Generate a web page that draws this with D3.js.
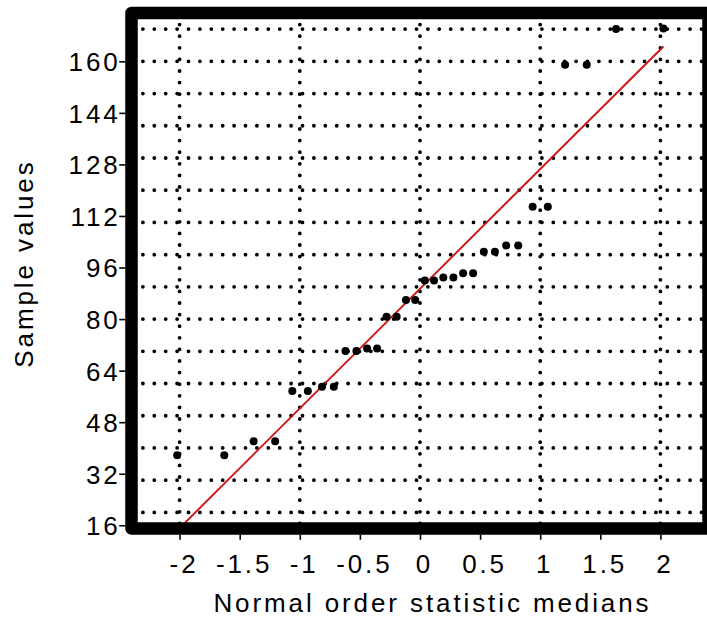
<!DOCTYPE html>
<html>
<head>
<meta charset="utf-8">
<script src="https://cdn.jsdelivr.net/npm/d3@7/dist/d3.min.js"></script>
<style>
  html, body { margin: 0; padding: 0; background: #fff; }
  svg { display: block; }
  text { font-family: "Liberation Sans", Arial, sans-serif; fill: #000; }
</style>
</head>
<body>
<svg id="chart" width="707" height="618"></svg>
<script>
// ---- data ----
const xTickValues = [-2, -1.5, -1, -0.5, 0, 0.5, 1, 1.5, 2];
const xTickLabels = ["-2", "-1.5", "-1", "-0.5", "0", "0.5", "1", "1.5", "2"];
const yTickValues = [16, 32, 48, 64, 80, 96, 112, 128, 144, 160];
const xGridValues = [-2, -1, 0, 1, 2];
const yGridValues = [20, 30, 40, 50, 60, 70, 80, 90, 100, 110, 120, 130, 140, 150, 160, 170];
const osm = [-2.02, -1.628, -1.384, -1.205, -1.062, -0.933, -0.815, -0.717, -0.62, -0.529, -0.44, -0.357,
             -0.278, -0.194, -0.117, -0.04, 0.04, 0.117, 0.194, 0.278, 0.359, 0.442, 0.531, 0.623,
             0.717, 0.817, 0.937, 1.063, 1.207, 1.387, 1.631, 2.025];
const sampleValues = [37.7, 37.7, 42.1, 42.1, 57.7, 57.7, 59.0, 59.0, 70.1, 70.1, 70.9, 70.9,
                      80.7, 80.7, 85.9, 85.9, 92.0, 92.0, 92.9, 92.9, 94.2, 94.2, 100.9, 100.9,
                      102.8, 102.8, 114.9, 114.9, 158.9, 158.9, 170.0, 170.2];
const fitX = [-2.025, 2.025];
const fitY = [14.2, 164.6];
const xTitle = "Normal order statistic medians";
const yTitle = "Sample values";

// ---- layout ----
const svg = d3.select("#chart");
const x = d3.scaleLinear().domain([-2.4, 2.4]).range([131.5, 708.5]);
const y = d3.scaleLinear().domain([15, 175]).range([528.5, 13]);
const frameW = 12.5;
const FS = 26;
const LS = 2.9;

// grid (dotted)
const grid = svg.append("g");
grid.selectAll("line.h").data(yGridValues).join("line")
  .attr("x1", x.range()[0]).attr("x2", x.range()[1])
  .attr("y1", d => y(d)).attr("y2", d => y(d))
  .attr("stroke", "#000").attr("stroke-width", 3.8)
  .attr("stroke-linecap", "round").attr("stroke-dasharray", "0 11.4");
grid.selectAll("line.v").data(xGridValues).join("line")
  .attr("x1", d => x(d)).attr("x2", d => x(d))
  .attr("y1", y.range()[1]).attr("y2", y.range()[0])
  .attr("stroke", "#000").attr("stroke-width", 3.8)
  .attr("stroke-linecap", "round").attr("stroke-dasharray", "0 11.6");

// fit line
svg.append("line")
  .attr("x1", x(fitX[0])).attr("y1", y(fitY[0]))
  .attr("x2", x(fitX[1])).attr("y2", y(fitY[1]))
  .attr("stroke", "#cc1414").attr("stroke-width", 1.9);

// points
svg.append("g").selectAll("circle").data(osm.map((v, i) => [v, sampleValues[i]])).join("circle")
  .attr("cx", d => x(d[0])).attr("cy", d => y(d[1]))
  .attr("r", 4).attr("fill", "#000");

// frame
const x0 = x.range()[0], x1 = x.range()[1], y0 = y.range()[1], y1 = y.range()[0];
svg.append("rect")
  .attr("x", x0).attr("y", y0).attr("width", x1 - x0).attr("height", y1 - y0)
  .attr("fill", "none").attr("stroke", "#000").attr("stroke-width", frameW)
  .attr("stroke-linejoin", "round");

// y axis
const yAxisX = x0 - frameW / 2;
const yAxis = d3.axisLeft(y).tickValues(yTickValues).tickSize(6).tickPadding(3);
const gy = svg.append("g").attr("transform", `translate(${yAxisX},0)`).call(yAxis);
gy.select(".domain").remove();
gy.selectAll(".tick line").attr("stroke", "#000").attr("stroke-width", 1.6);
gy.selectAll(".tick text")
  .attr("font-size", FS).attr("letter-spacing", LS)
  .attr("font-family", "Liberation Sans, Arial, sans-serif")
  .attr("x", -7.5 + LS).attr("dy", "0.36em").attr("fill", "#000");

// x axis
const xAxisY = y1 + frameW / 2;
const xAxis = d3.axisBottom(x).tickValues(xTickValues).tickSize(5).tickPadding(3)
  .tickFormat((d, i) => xTickLabels[i]);
const gx = svg.append("g").attr("transform", `translate(0,${xAxisY})`).call(xAxis);
gx.select(".domain").remove();
gx.selectAll(".tick line").attr("stroke", "#000").attr("stroke-width", 1.6);
gx.selectAll(".tick text")
  .attr("font-size", FS).attr("letter-spacing", LS)
  .attr("font-family", "Liberation Sans, Arial, sans-serif")
  .attr("x", LS / 2 + 2.5).attr("y", 0).attr("dy", 38.5).attr("fill", "#000");

// titles
svg.append("text")
  .attr("x", 431 + LS / 2).attr("y", 611.5)
  .attr("text-anchor", "middle").attr("font-size", FS).attr("letter-spacing", LS)
  .text(xTitle);
svg.append("text")
  .attr("transform", `translate(33,${265 - LS / 2}) rotate(-90)`)
  .attr("text-anchor", "middle").attr("font-size", FS).attr("letter-spacing", LS)
  .text(yTitle);
</script>
</body>
</html>
